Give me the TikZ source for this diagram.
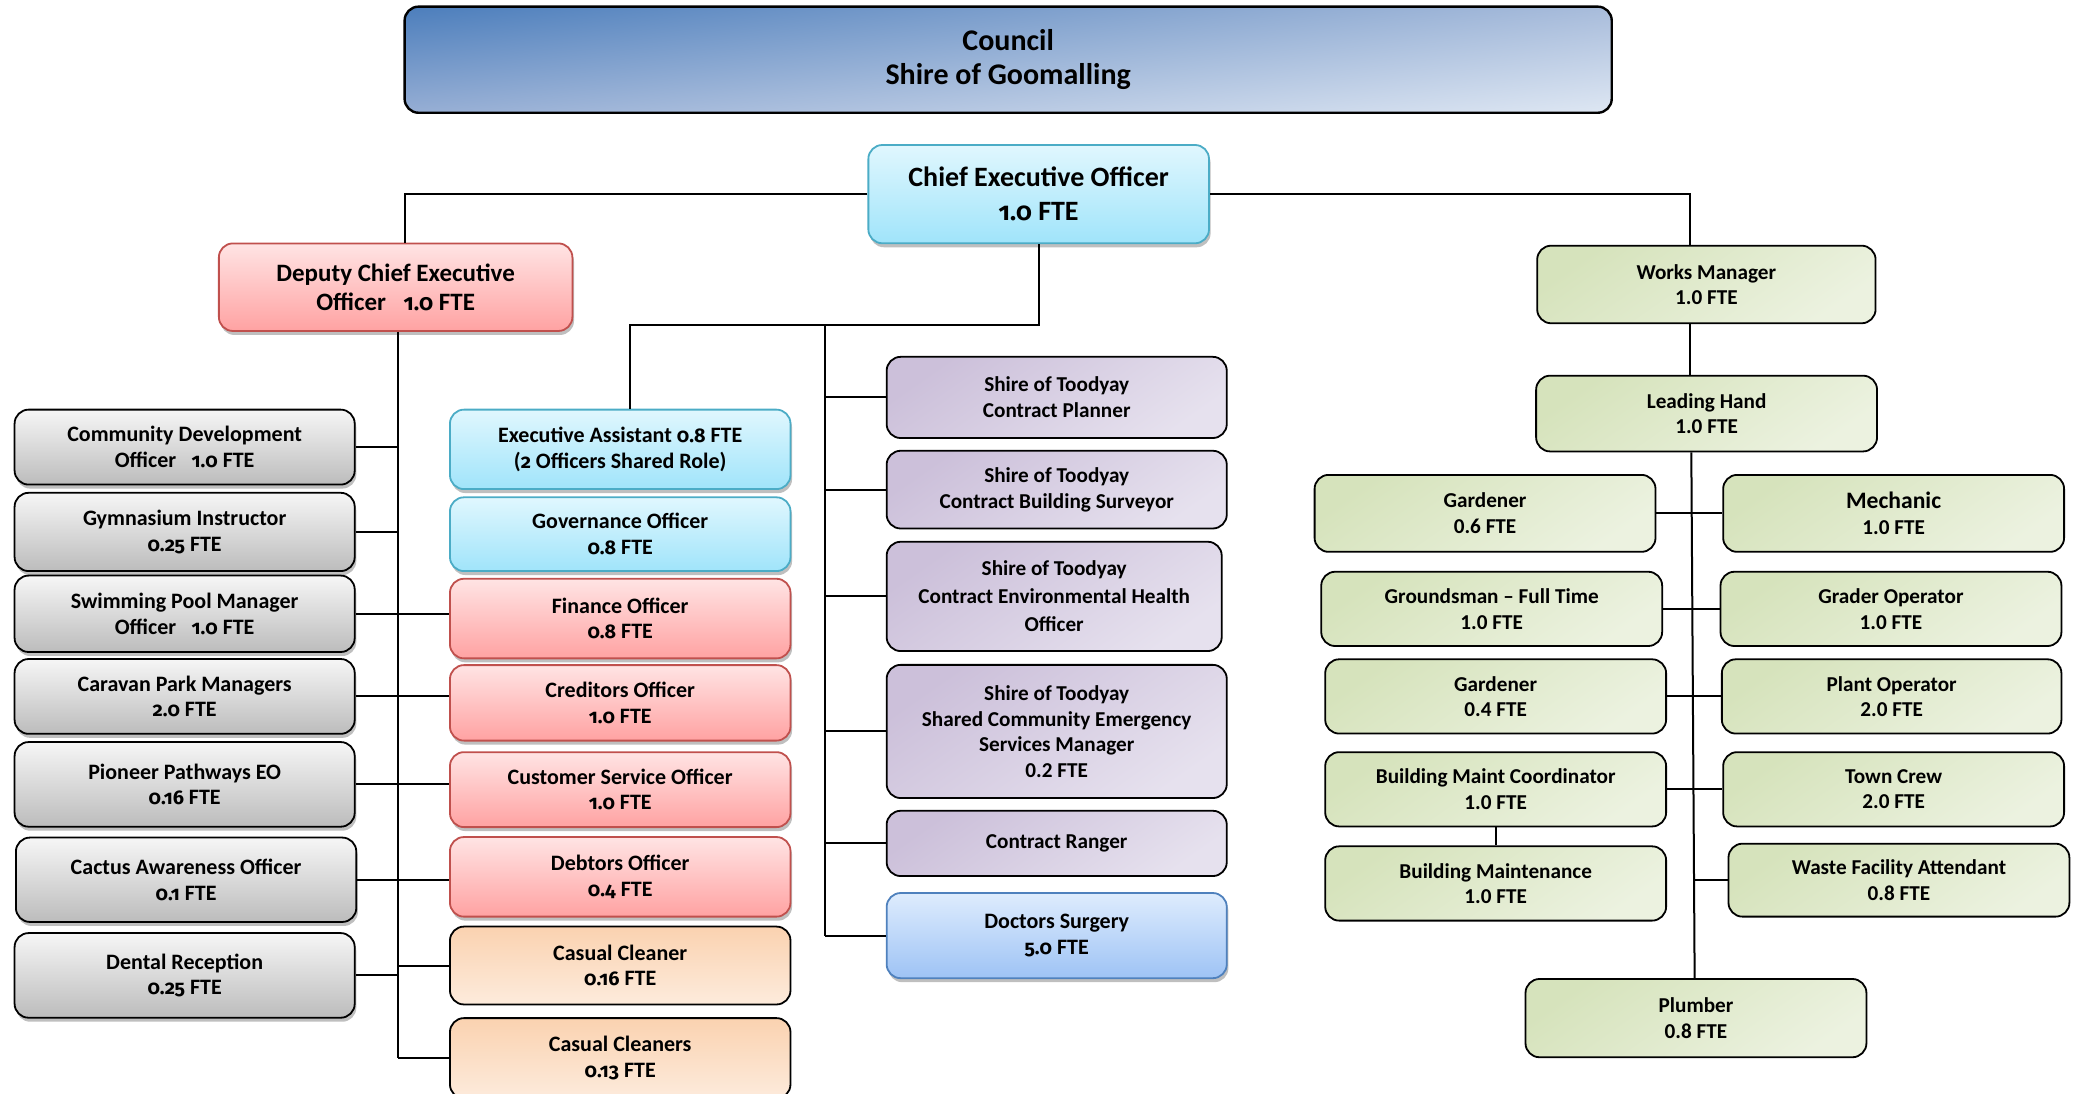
\documentclass[tikz,border=0pt]{standalone}
\usepackage{fontspec}
\setmainfont{Carlito}
\newfontfamily\osfont[Numbers=OldStyle,Scale=0.9]{Fira Sans}
\newcommand\osn[1]{{\osfont #1}}
\usetikzlibrary{shadows,calc,shadings}
\definecolor{cUL}{RGB}{76,126,188}
\definecolor{cUR}{RGB}{168,188,219}
\definecolor{cLL}{RGB}{150,174,212}
\definecolor{cLR}{RGB}{222,231,243}
\definecolor{cyanTop}{RGB}{224,247,254}
\definecolor{cyanBot}{RGB}{160,228,250}
\definecolor{cyanLine}{RGB}{75,172,198}
\definecolor{redTop}{RGB}{255,228,228}
\definecolor{redBot}{RGB}{255,162,162}
\definecolor{redLine}{RGB}{192,80,77}
\definecolor{grayTop}{RGB}{246,246,246}
\definecolor{grayBot}{RGB}{188,188,188}
\definecolor{orTop}{RGB}{250,210,176}
\definecolor{orBot}{RGB}{253,235,220}
\definecolor{puTop}{RGB}{204,192,218}
\definecolor{puBot}{RGB}{230,225,238}
\definecolor{docTop}{RGB}{222,236,253}
\definecolor{docBot}{RGB}{158,195,245}
\definecolor{docLine}{RGB}{79,129,189}
\definecolor{grTop}{RGB}{214,227,188}
\definecolor{grBot}{RGB}{236,242,224}
\tikzset{
  x=0.66325pt, y=-0.66325pt,
  box/.style={rounded corners=7pt, align=center, inner sep=0pt, line width=0.9pt,
    font=\bfseries\fontsize{10.6}{12.8}\selectfont},
  cand/.style={font=\bfseries\fontsize{11}{12.8}\selectfont},
  shad/.style={drop shadow={shadow xshift=0.8pt, shadow yshift=-2pt, opacity=0.25, fill=black}},
  councilbox/.style={box, draw=black, line width=1.2pt, upper left=cUL, upper right=cUR,
    lower left=cLL, lower right=cLR, font=\bfseries\fontsize{15}{17.2}\selectfont},
  cyanbox/.style={box, cand, shad, draw=cyanLine, top color=cyanTop, bottom color=cyanBot},
  redbox/.style={box, cand, shad, draw=redLine, top color=redTop, bottom color=redBot},
  graybox/.style={box, cand, shad, draw=black, top color=grayTop, bottom color=grayBot},
  orbox/.style={box, cand, draw=black, top color=orTop, bottom color=orBot},
  pubox/.style={box, draw=black, top color=puTop, bottom color=puBot, shading angle=35},
  docbox/.style={box, cand, shad, draw=docLine, top color=docTop, bottom color=docBot},
  grbox/.style={box, draw=black, top color=grTop, bottom color=grBot, shading angle=35},
  conn/.style={line width=1pt, draw=black},
}
\newcommand\bx[7]{%
  \pgfmathsetmacro\bw{(#5-#3)*0.66325}%
  \pgfmathsetmacro\bh{(#6-#4)*0.66325}%
  \node[#2, minimum width=\bw pt, minimum height=\bh pt] (#1) at ({(#3+#5)/2},{(#4+#6)/2}) {#7};}
\begin{document}
\begin{tikzpicture}
\useasboundingbox (0,0) rectangle (1568,824);
\clip (0,0) rectangle (1568,824);
% top
\bx{council}{councilbox}{305}{5}{1215}{85}{Council\\Shire of Goomalling}
\bx{ceo}{cyanbox, font=\bfseries\fontsize{14}{17}\selectfont}{654.6}{109.3}{911.4}{183.4}{Chief Executive Officer\\\osn{1.0} FTE}
\bx{dep}{redbox, font=\bfseries\fontsize{12.5}{14.6}\selectfont}{165}{183.5}{431.5}{249.5}{Deputy Chief Executive\\Officer\hspace{0.7em}\osn{1.0} FTE}
% gray column
\bx{cdo}{graybox}{11}{308.8}{267.4}{365.3}{Community Development\\Officer\hspace{0.7em}\osn{1.0} FTE}
\bx{gym}{graybox}{11}{371.5}{267.4}{430.5}{Gymnasium Instructor\\\osn{0.25} FTE}
\bx{swim}{graybox}{11}{433.9}{267.4}{491.5}{Swimming Pool Manager\\Officer\hspace{0.7em}\osn{1.0} FTE}
\bx{car}{graybox}{11}{496.8}{267.4}{553.2}{Caravan Park Managers\\\osn{2.0} FTE}
\bx{pio}{graybox}{11}{559.4}{267.4}{623.2}{Pioneer Pathways EO\\\osn{0.16} FTE}
\bx{cac}{graybox}{12}{631.4}{268.6}{695}{Cactus Awareness Officer\\\osn{0.1} FTE}
\bx{den}{graybox}{11}{703.4}{267.4}{767.2}{Dental Reception\\\osn{0.25} FTE}
% middle column
\bx{ea}{cyanbox}{339.2}{308.8}{595.9}{368.7}{Executive Assistant \osn{0.8} FTE\\(\osn{2} Officers Shared Role)}
\bx{gov}{cyanbox}{339.2}{374.9}{595.9}{430.5}{Governance Officer\\\osn{0.8} FTE}
\bx{fin}{redbox}{339.2}{436.3}{595.9}{496.3}{Finance Officer\\\osn{0.8} FTE}
\bx{cred}{redbox}{339.2}{501.4}{595.9}{558.3}{Creditors Officer\\\osn{1.0} FTE}
\bx{cust}{redbox}{339.2}{567}{595.9}{623.5}{Customer Service Officer\\\osn{1.0} FTE}
\bx{deb}{redbox}{339.2}{631}{595.9}{691}{Debtors Officer\\\osn{0.4} FTE}
\bx{cca}{orbox}{339.2}{698.5}{595.9}{757.2}{Casual Cleaner\\\osn{0.16} FTE}
\bx{ccb}{orbox}{339.2}{767.5}{595.9}{828}{Casual Cleaners\\\osn{0.13} FTE}
% purple column
\bx{plan}{pubox}{668.4}{269}{924.8}{330.2}{Shire of Toodyay\\Contract Planner}
\bx{surv}{pubox}{668.4}{339.8}{924.8}{398.4}{Shire of Toodyay\\Contract Building Surveyor}
\bx{env}{pubox, font=\bfseries\fontsize{10.6}{14}\selectfont}{668.4}{408.4}{921}{490.8}{Shire of Toodyay\\Contract Environmental Health\\Officer}
\bx{scem}{pubox}{668.4}{501.2}{924.8}{601.6}{Shire of Toodyay\\Shared Community Emergency\\Services Manager\\0.2 FTE}
\bx{rang}{pubox}{668.4}{611.2}{924.8}{660.4}{\raisebox{2pt}{Contract Ranger}}
\bx{doc}{docbox}{668.4}{673.2}{924.8}{737.4}{Doctors Surgery\\\osn{5.0} FTE}
% green
\bx{works}{grbox}{1158.8}{185.2}{1413.9}{243.7}{Works Manager\\1.0 FTE}
\bx{lead}{grbox}{1158}{283.2}{1415}{340.3}{Leading Hand\\1.0 FTE}
\bx{gard1}{grbox}{991}{358}{1248}{416}{Gardener\\0.6 FTE}
\bx{mech}{grbox}{1299}{358}{1556}{416}{{\fontsize{11.8}{13}\selectfont Mechanic}\\1.0 FTE}
\bx{grnd}{grbox}{996}{431}{1253}{487}{Groundsman – Full Time\\1.0 FTE}
\bx{grad}{grbox}{1297}{431}{1554}{487}{Grader Operator\\1.0 FTE}
\bx{gard2}{grbox}{999}{497}{1256}{553}{Gardener\\0.4 FTE}
\bx{plant}{grbox}{1298}{497}{1554}{553}{Plant Operator\\2.0 FTE}
\bx{bmc}{grbox}{999}{567}{1256}{623}{Building Maint Coordinator\\1.0 FTE}
\bx{town}{grbox}{1299}{567}{1556}{623}{Town Crew\\2.0 FTE}
\bx{bm}{grbox}{999}{638}{1256}{694}{Building Maintenance\\1.0 FTE}
\bx{waste}{grbox}{1303}{636}{1560}{691}{Waste Facility Attendant\\0.8 FTE}
\bx{plumb}{grbox}{1150}{738}{1407}{797}{Plumber\\0.8 FTE}
% spine coordinates
\coordinate (sL) at (305,149);
\coordinate (sR) at (1274,149);
\coordinate (hb) at (784,245);
\coordinate (hbL) at (475,245);
\coordinate (mS) at (622,245);
\coordinate (dS) at (300,250);
\coordinate (gS1) at (1275,340);
\coordinate (gS2) at (1277.5,738);
% connectors
\draw[conn] (ceo.west) -- (ceo.west -| sL) -- (sL |- dep.north);
\draw[conn] (ceo.east) -- (ceo.east -| sR) -- (sR |- works.north);
\draw[conn] (ceo.south) -- (ceo.south |- hb) -- (hbL) -- (hbL |- ea.north);
\draw[conn] (mS) -- (mS |- doc.west);
\foreach \n in {plan,surv,env,scem,rang,doc} \draw[conn] (mS |- \n.west) -- (\n.west);
\draw[conn] (dS |- dep.south) -- (dS |- ccb.west);
\foreach \n in {cdo,gym,den} \draw[conn] (\n.east) -- (\n.east -| dS);
\draw[conn] (swim.east) -- (swim.east -| fin.west);
\draw[conn] (car.east) -- (car.east -| cred.west);
\draw[conn] (pio.east) -- (pio.east -| cust.west);
\draw[conn] (cac.east) -- (cac.east -| deb.west);
\foreach \n in {cca,ccb} \draw[conn] (dS |- \n.west) -- (\n.west);
\draw[conn] (sR |- works.south) -- (sR |- lead.north);
\draw[conn] (lead.south -| gS1) -- (plumb.north -| gS2);
\draw[conn] (gard1.east) -- (gard1.east -| mech.west);
\draw[conn] (grnd.east) -- (grnd.east -| grad.west);
\draw[conn] (gard2.east) -- (gard2.east -| plant.west);
\draw[conn] (bmc.east) -- (bmc.east -| town.west);
\draw[conn] (waste.west -| gS2) -- (waste.west);
\draw[conn] (bmc.south) -- (bm.north);
\end{tikzpicture}
\end{document}
